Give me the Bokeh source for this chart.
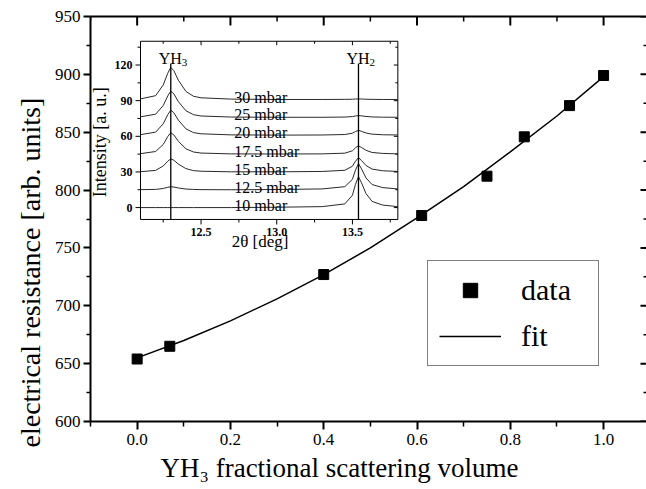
import math
from bokeh.plotting import figure
from bokeh.models import Range1d, LinearAxis, FixedTicker, Legend, LegendItem, Title
from bokeh.core.properties import value
from bokeh.embed import file_html
from bokeh.resources import INLINE

SERIF = "Liberation Serif"

# ---------------- main data ----------------
frac = [0.0, 0.07, 0.40, 0.61, 0.75, 0.83, 0.927, 1.0]
resistance = [654, 665, 727, 778, 812, 846, 873, 899]
fit_frac = [0.0, 0.1, 0.2, 0.3, 0.4, 0.5, 0.6, 0.7, 0.8, 0.9, 1.0]
fit_res = [655, 670, 687, 706, 727, 750, 776, 803, 833, 864, 898]

x_major = [0.0, 0.2, 0.4, 0.6, 0.8, 1.0]
x_labels = ["0.0", "0.2", "0.4", "0.6", "0.8", "1.0"]
x_minor = [-0.1, 0.1, 0.3, 0.5, 0.7, 0.9]
y_major = [600, 650, 700, 750, 800, 850, 900, 950]
y_minor = [625, 675, 725, 775, 825, 875, 925]

# ---------------- inset data ----------------
theta = [12.10, 12.20, 12.25, 12.28, 12.30, 12.32, 12.35, 12.40, 12.45, 12.50, 12.70,
         13.00, 13.30, 13.45, 13.50, 13.52, 13.54, 13.56, 13.59, 13.63, 13.70, 13.80]
int_10 = [0, 0, 0, 0, 0, 0, 0, 0, 0, 0, 0, 0.3, 0.8, 3.1, 10.4, 19.5, 26, 20.8, 11.7, 5.2, 2.1, 0.8]
int_12_5 = [15.1, 15.3, 16.1, 17.1, 17.5, 17.3, 16.5, 15.6, 15.3, 15.1, 15.0, 15.2, 15.7, 17.6, 23.8, 31.5, 37, 32.6, 24.9, 19.4, 16.8, 15.7]
int_15 = [30.2, 31.3, 35.0, 39.0, 41, 39.9, 36.6, 32.8, 31.1, 30.6, 30.1, 30.1, 30.4, 31.4, 34.8, 39, 42, 39.6, 35.4, 32.4, 31, 30.4]
int_17_5 = [45.4, 47.2, 53.1, 59.8, 63, 61.2, 55.8, 49.5, 46.8, 45.9, 45.2, 45.1, 45.2, 45.8, 47.8, 50.3, 52, 50.6, 48.2, 46.4, 45.6, 45.2]
int_20 = [61.4, 63.5, 70.5, 78.2, 82, 79.9, 73.6, 66.3, 63.1, 62.1, 61.2, 61, 61.1, 61.5, 62.6, 64, 65, 64.2, 62.8, 61.8, 61.3, 61.1]
int_25 = [76.4, 78.6, 85.9, 94.0, 98, 95.8, 89.2, 81.5, 78.2, 77.1, 76.2, 76, 76, 76.2, 76.6, 77.1, 77.5, 77.2, 76.7, 76.3, 76.1, 76]
int_30 = [91.5, 94.2, 103.2, 113.1, 118, 115.3, 107.2, 97.8, 93.7, 92.4, 91.3, 91, 91, 91.1, 91.2, 91.4, 91.5, 91.4, 91.2, 91.1, 91, 91]
traces = [int_10, int_12_5, int_15, int_17_5, int_20, int_25, int_30]
pressures = ["10 mbar", "12.5 mbar", "15 mbar", "17.5 mbar", "20 mbar", "25 mbar", "30 mbar"]
trace_base = [0, 15, 30, 45, 61, 76, 91]
peak_pos = [12.30, 13.54]
peak_names = ["YH", "YH"]
peak_subs = ["3", "2"]
inset_x_major = [12.5, 13.0, 13.5]
inset_x_labels = ["12.5", "13.0", "13.5"]
inset_x_minor = [12.25, 12.75, 13.25, 13.75]
inset_y_major = [0, 30, 60, 90, 120]
inset_y_labels = ["0", "30", "60", "90", "120"]
inset_y_minor = [15, 45, 75, 105, 135]

# ---------------- figure ----------------
xr = Range1d(-0.1, 1.092)
yr_ = Range1d(600, 950)
p = figure(width=646, height=489, output_backend="svg", toolbar_location=None,
           x_range=xr, y_range=yr_,
           min_border_left=90, min_border_right=0, min_border_top=16, min_border_bottom=68,
           x_axis_location=None, y_axis_location=None)
p.outline_line_color = None
p.xgrid.visible = False
p.ygrid.visible = False
p.background_fill_color = "white"
p.border_fill_color = "white"


def style(ax, maj_out, min_out):
    ax.axis_line_width = 2
    ax.axis_line_color = "black"
    ax.major_tick_line_width = 2
    ax.minor_tick_line_width = 1.5
    ax.major_tick_in = 0
    ax.major_tick_out = maj_out
    ax.minor_tick_in = 0
    ax.minor_tick_out = min_out
    ax.major_label_text_font = SERIF
    ax.major_label_text_color = "black"
    ax.major_label_text_font_size = "17px"


xb = LinearAxis(ticker=FixedTicker(ticks=x_major, minor_ticks=x_minor),
                major_label_overrides=dict(zip(x_major, x_labels)))
style(xb, 8, 5)
xb.major_label_standoff = 4
p.add_layout(xb, "below")
p.add_layout(Title(text="YH\u2083 fractional scattering volume", align="left", offset=70,
                   standoff=7, text_font=SERIF, text_font_size="27px",
                   text_font_style="normal", text_color="black"), "below")

yl = LinearAxis(ticker=FixedTicker(ticks=y_major, minor_ticks=y_minor))
style(yl, 7, 4)
yl.major_label_standoff = 3
p.add_layout(yl, "left")
p.add_layout(Title(text="electrical resistance [arb. units]", align="left", offset=-26,
                   standoff=11, text_font=SERIF, text_font_size="28px",
                   text_font_style="normal", text_color="black"), "left")

# top frame line (no ticks of its own)
xt = LinearAxis(ticker=FixedTicker(ticks=[], minor_ticks=[]))
xt.axis_line_width = 2
xt.major_label_standoff = 0
p.add_layout(xt, "above")

# mirrored inward ticks on top and right
down = -math.pi / 2
left = math.pi
p.ray(x=x_major, y=[yr_.end] * len(x_major), length=9, angle=down, length_units="screen",
      line_color="black", line_width=2)
p.ray(x=x_minor, y=[yr_.end] * len(x_minor), length=5, angle=down, length_units="screen",
      line_color="black", line_width=1.5)
p.ray(x=[xr.end] * len(y_major), y=y_major, length=6, angle=left, length_units="screen",
      line_color="black", line_width=2)
p.ray(x=[xr.end] * len(y_minor), y=y_minor, length=3, angle=left, length_units="screen",
      line_color="black", line_width=1.5)

r_fit = p.line(fit_frac, fit_res, line_color="black", line_width=1.5)
r_data = p.scatter(frac, resistance, marker="square", size=10, color="black")

legend = Legend(items=[LegendItem(label="data", renderers=[r_data]),
                       LegendItem(label="fit", renderers=[r_fit])],
                location=(337, 55), orientation="vertical", margin=0,
                label_text_font=SERIF, label_text_font_size="30px", label_text_color="black",
                glyph_width=62, glyph_height=36, label_height=36, label_width=66,
                spacing=10, padding=11, label_standoff=20,
                border_line_color="black", border_line_width=1.5,
                background_fill_color="white", background_fill_alpha=1.0)
p.add_layout(legend)

# ---------------- inset (sub-coordinates) ----------------
ix = Range1d(12.1, 13.8)
iy = Range1d(-10, 140)
inset = p.subplot(x_source=ix, y_source=iy,
                  x_target=Range1d(0.0072, 0.5589), y_target=Range1d(774.6, 928.6))

inset.quad(left=[ix.start], right=[ix.end], bottom=[iy.start], top=[iy.end],
           fill_color="white", line_color="black", line_width=1)

for tr in traces:
    inset.line(theta, tr, line_color="#2a2a2a", line_width=1)

inset.segment(x0=peak_pos, y0=[iy.start] * 2, x1=peak_pos, y1=[121] * 2,
              line_color="black", line_width=1.3)

# inset ticks
inset.ray(x=inset_x_major, y=[iy.start] * 3, length=5, angle=down, length_units="screen", line_color="black", line_width=1)
inset.ray(x=inset_x_minor, y=[iy.start] * 4, length=3, angle=down, length_units="screen", line_color="black", line_width=1)
inset.ray(x=inset_x_major, y=[iy.end] * 3, length=4, angle=down, length_units="screen", line_color="black", line_width=1)
inset.ray(x=inset_x_minor, y=[iy.end] * 4, length=2.5, angle=down, length_units="screen", line_color="black", line_width=1)
inset.ray(x=[ix.start] * 5, y=inset_y_major, length=5, angle=left, length_units="screen", line_color="black", line_width=1)
inset.ray(x=[ix.start] * 5, y=inset_y_minor, length=3, angle=left, length_units="screen", line_color="black", line_width=1)
inset.ray(x=[ix.end] * 5, y=inset_y_major, length=4, angle=left, length_units="screen", line_color="black", line_width=1)
inset.ray(x=[ix.end] * 5, y=inset_y_minor, length=2.5, angle=left, length_units="screen", line_color="black", line_width=1)

inset.text(x=inset_x_major, y=[iy.start] * 3, text=inset_x_labels, y_offset=9,
           text_align="center", text_baseline="top", text_font=value(SERIF),
           text_font_size="12px", text_color="black", text_font_style="bold")
inset.text(x=[ix.start] * 5, y=inset_y_major, text=inset_y_labels, x_offset=-8,
           text_align="right", text_baseline="middle", text_font=value(SERIF),
           text_font_size="12px", text_color="black", text_font_style="bold")
inset.text(x=[ix.start], y=[55], text=["Intensity [a. u.]"], x_offset=-41, angle=math.pi / 2,
           text_align="center", text_baseline="middle", text_font=value(SERIF),
           text_font_size="18px", text_color="black")
inset.text(x=[12.89], y=[iy.start], text=["2θ [deg]"], y_offset=22,
           text_align="center", text_baseline="middle", text_font=value(SERIF),
           text_font_size="17px", text_color="black")

# peak labels
inset.text(x=peak_pos, y=[iy.end] * 2, text=peak_names, x_offset=-12, y_offset=17,
           text_align="left", text_baseline="alphabetic", text_font=value(SERIF),
           text_font_size="16px", text_color="black")
inset.text(x=peak_pos, y=[iy.end] * 2, text=peak_subs, x_offset=11, y_offset=21,
           text_align="left", text_baseline="alphabetic", text_font=value(SERIF),
           text_font_size="11px", text_color="black")

# trace labels
inset.text(x=[12.72] * 7, y=[b + 2 for b in trace_base], text=pressures,
           text_align="left", text_baseline="alphabetic", text_font=value(SERIF),
           text_font_size="16px", text_color="black")

open("out.html", "w").write(file_html(p, INLINE))
